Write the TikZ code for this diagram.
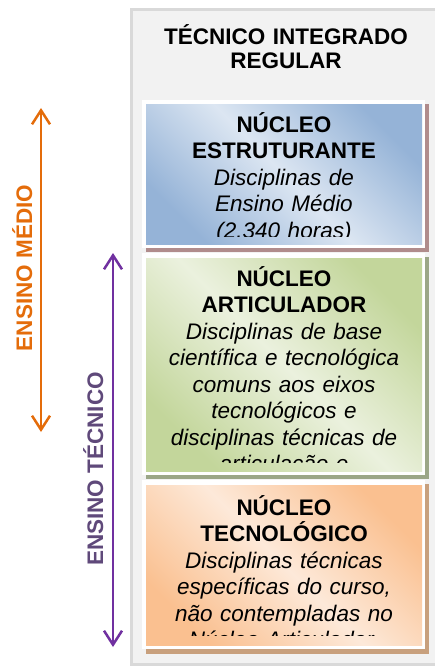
\documentclass[tikz,border=0pt]{standalone}
\usepackage{fontspec}
\setmainfont{Liberation Sans}
\usetikzlibrary{arrows.meta}
\definecolor{panelfill}{HTML}{F2F2F2}
\definecolor{panelline}{HTML}{D9D9D9}
\definecolor{bdark}{HTML}{95B3D7}
\definecolor{blight}{HTML}{DCE6F2}
\definecolor{bshadow}{HTML}{B08C8C}
\definecolor{gdark}{HTML}{C3D69B}
\definecolor{glight}{HTML}{EBF1DE}
\definecolor{gshadow}{HTML}{9BA687}
\definecolor{odark}{HTML}{FAC090}
\definecolor{olight}{HTML}{FDE9D9}
\definecolor{oshadow}{HTML}{C8A07D}
\definecolor{ensorange}{HTML}{E46C0A}
\definecolor{enspurple}{HTML}{7030A0}
\definecolor{enspurpletext}{HTML}{5F497A}
\tikzset{
  boxtext/.style={anchor=base, text width=290pt, align=center, inner sep=0pt,
    font=\fontsize{22.5}{26.5}\selectfont},
  titletext/.style={anchor=base, text width=290pt, align=center, inner sep=0pt,
    font=\fontsize{22.5}{24}\selectfont\bfseries},
  sidelabel/.style={rotate=90, anchor=base, inner sep=0pt,
    font=\fontsize{22.5}{26}\selectfont\bfseries},
  barbs/.style={{Straight Barb[length=14pt,width=18pt]}-{Straight Barb[length=14pt,width=18pt]}},
  spanarrow/.style={barbs, line width=2.5pt},
}
\begin{document}
\begin{tikzpicture}[x=1pt,y=-1pt]
\useasboundingbox (0,0) rectangle (435,666);
\clip (0,0) rectangle (435,666);
% panel
\fill[panelfill] (131.5,10) rectangle (445,664);
\draw[panelline, line width=3pt] (445,10) -- (131.5,10) -- (131.5,664) -- (445,664);
\node[titletext] (title) at (286,45) {TÉCNICO INTEGRADO\\REGULAR};
% box 1
\fill[bshadow] (146,104) rectangle (429,252);
\fill[white] (142,100) rectangle (425,248);
\shade[top color=bdark, bottom color=bdark, middle color=blight, shading angle=-45] (146,105) rectangle (422,244);
\begin{scope}
\clip (146,105) rectangle (422,236);
\node[boxtext] (t1) at (284,132) {\textbf{NÚCLEO}\\\textbf{ESTRUTURANTE}\\\textit{Disciplinas de}\\\textit{Ensino Médio}\\\textit{(2.340 horas)}};
\end{scope}
% box 2
\fill[gshadow] (146,257) rectangle (429,479);
\fill[white] (142,253) rectangle (425,475);
\shade[top color=gdark, bottom color=gdark, middle color=glight, shading angle=-45] (146,258) rectangle (422,471);
\begin{scope}
\clip (146,258) rectangle (422,462);
\node[boxtext] (t2) at (284,286) {\textbf{NÚCLEO}\\\textbf{ARTICULADOR}\\\textit{Disciplinas de base}\\\textit{científica e tecnológica}\\\textit{comuns aos eixos}\\\textit{tecnológicos e}\\\textit{disciplinas técnicas de}\\\textit{articulação e}};
\end{scope}
% box 3
\fill[oshadow] (146,484) rectangle (429,654);
\fill[white] (142,480) rectangle (425,649);
\shade[top color=odark, bottom color=odark, middle color=olight, shading angle=-45] (146,485) rectangle (422,645);
\begin{scope}
\clip (146,485) rectangle (422,635);
\node[boxtext] (t3) at (284,515) {\textbf{NÚCLEO}\\\textbf{TECNOLÓGICO}\\\textit{Disciplinas técnicas}\\\textit{específicas do curso,}\\\textit{não contempladas no}\\\textit{Núcleo Articulador.}};
\end{scope}
% side arrows
\coordinate (om1) at (41,108);
\coordinate (om2) at (41,432);
\draw[spanarrow, ensorange] (om1) -- (om2);
\node[sidelabel, text=ensorange] (lm) at (32,268) {ENSINO MÉDIO};
\coordinate (et1) at (113,253);
\coordinate (et2) at (113,647);
\draw[spanarrow, enspurple] (et1) -- (et2);
\node[sidelabel, text=enspurpletext] (lt) at (103,469) {ENSINO TÉCNICO};
\end{tikzpicture}
\end{document}
